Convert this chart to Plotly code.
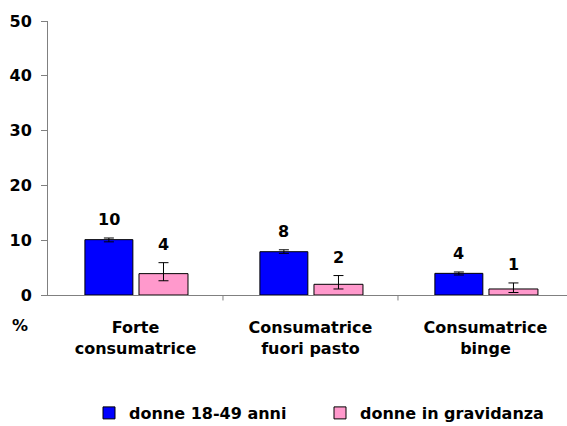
import plotly.graph_objects as go

categories = ["Forte<br>consumatrice", "Consumatrice<br>fuori pasto", "Consumatrice<br>binge"]
series_names = ["donne 18-49 anni", "donne in gravidanza"]
donne_18_49 = [10.1, 7.9, 3.95]
donne_18_49_err_plus = [0.3, 0.35, 0.25]
donne_18_49_err_minus = [0.4, 0.3, 0.3]
gravidanza = [3.9, 1.95, 1.1]
gravidanza_err_plus = [2.0, 1.6, 1.1]
gravidanza_err_minus = [1.3, 0.85, 0.65]
value_labels_18_49 = ["10", "8", "4"]
value_labels_grav = ["4", "2", "1"]
y_ticks = [0, 10, 20, 30, 40, 50]

FONT = "DejaVu Sans, sans-serif"
FS = 16
xs = list(range(len(categories)))

blue_off, blue_w = -0.289, 0.274
pink_off, pink_w = 0.02, 0.28

fig = go.Figure()
fig.add_trace(go.Bar(
    x=xs, y=donne_18_49, name=series_names[0],
    offset=blue_off, width=blue_w,
    marker=dict(color="#0000FF", line=dict(color="#000000", width=1)),
    error_y=dict(type="data", symmetric=False, array=donne_18_49_err_plus,
                 arrayminus=donne_18_49_err_minus, color="#000000", thickness=1, width=5),
))
fig.add_trace(go.Bar(
    x=xs, y=gravidanza, name=series_names[1],
    offset=pink_off, width=pink_w,
    marker=dict(color="#FF99CC", line=dict(color="#000000", width=1)),
    error_y=dict(type="data", symmetric=False, array=gravidanza_err_plus,
                 arrayminus=gravidanza_err_minus, color="#000000", thickness=1, width=5),
))

bold = dict(family=FONT, size=FS, color="black", weight="bold")
annotations = []
for i in xs:
    annotations.append(dict(x=i + blue_off + blue_w / 2, y=donne_18_49[i] + donne_18_49_err_plus[i],
                            xref="x", yref="y", text=value_labels_18_49[i], showarrow=False,
                            yanchor="bottom", yshift=7, font=bold))
    annotations.append(dict(x=i + pink_off + pink_w / 2, y=gravidanza[i] + gravidanza_err_plus[i],
                            xref="x", yref="y", text=value_labels_grav[i], showarrow=False,
                            yanchor="bottom", yshift=7, font=bold))
annotations.append(dict(x=-0.054, y=-0.113, xref="paper", yref="paper", text="%",
                        showarrow=False, xanchor="center", yanchor="middle", font=bold))

fig.update_layout(
    width=567, height=426,
    margin=dict(l=48, r=0, t=21, b=131, autoexpand=False),
    paper_bgcolor="white", plot_bgcolor="white",
    barmode="overlay",
    showlegend=True,
    legend=dict(orientation="h", xref="container", yref="container",
                x=89 / 567, xanchor="left", y=13 / 426, yanchor="middle",
                font=bold, entrywidth=186, entrywidthmode="pixels", traceorder="normal"),
    annotations=annotations,
    xaxis=dict(
        tickmode="array", tickvals=xs, ticktext=categories,
        range=[-0.5, 2.466], automargin=False,
        showline=True, linecolor="#808080", linewidth=1,
        ticks="", showgrid=False, zeroline=False,
        tickfont=bold, ticklabelstandoff=18,
    ),
    yaxis=dict(
        range=[0, 50], tickvals=y_ticks, automargin=False,
        showline=True, linecolor="#808080", linewidth=1,
        ticks="outside", ticklen=6, tickcolor="#808080",
        showgrid=False, zeroline=False,
        tickfont=bold, ticklabelstandoff=6,
    ),
)

fig.add_shape(type="line", xref="x", yref="paper", x0=0.5, x1=0.5, y0=0, y1=-0.02,
              line=dict(color="#808080", width=1))
fig.add_shape(type="line", xref="x", yref="paper", x0=1.5, x1=1.5, y0=0, y1=-0.02,
              line=dict(color="#808080", width=1))

fig.write_html("out.html", config={"displayModeBar": False},
               post_script="document.body.style.margin='0';")
